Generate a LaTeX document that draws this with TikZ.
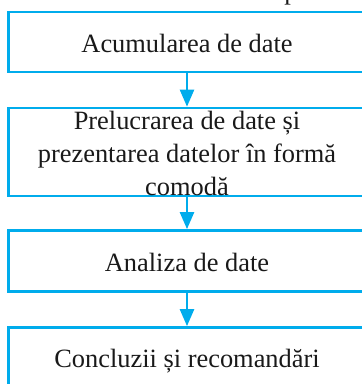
\documentclass[tikz,border=0pt]{standalone}
\usepackage{fontspec}
\setmainfont{Liberation Serif}
\usetikzlibrary{arrows.meta}
\definecolor{flowblue}{RGB}{0,172,236}
\begin{document}
\begin{tikzpicture}[x=1pt,y=-1pt,
  box/.style={draw=flowblue,line width=2.7pt,rectangle,minimum width=357.4pt,inner sep=0pt},
  lab/.style={font=\fontsize{26.4}{33}\selectfont,align=center,inner sep=0pt,text=black!90},
  flow/.style={draw=flowblue,line width=2.4pt,-{Triangle[width=14pt,length=17pt]}}]
\useasboundingbox (0,0) rectangle (362,384);
% boxes
\node[box,minimum height=60pt] (b1) at (187,42) {};
\node[box,minimum height=88pt] (b2) at (187,152) {};
\node[box,minimum height=61pt] (b3) at (187,261) {};
\node[box,minimum height=80pt] (b4) at (187,367.5) {};
% texts
\node[lab,anchor=base] (t0) at (291,-0.8) {p};
\node[lab,anchor=base] (t1) at (187,52.5) {Acumularea de date};
\node[lab,anchor=base] (t2) at (187,195) {Prelucrarea de date și\\prezentarea datelor în formă\\comodă};
\node[lab,anchor=base] (t3) at (187,271) {Analiza de date};
\node[lab,anchor=base] (t4) at (187,367) {Concluzii și recomandări};
% connectors
\draw[flow] (b1.south) -- (b2.north);
\draw[flow] (b2.south) -- (b3.north);
\draw[flow] (b3.south) -- (b4.north);
\end{tikzpicture}
\end{document}
